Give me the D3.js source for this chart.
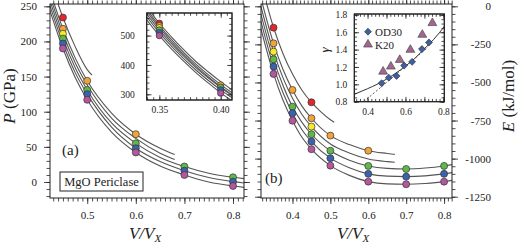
<!DOCTYPE html>
<html>
<head>
<meta charset="utf-8">
<script src="https://cdn.jsdelivr.net/npm/d3@7"></script>
<style>
body { margin: 0; background: #fff; }
svg, svg text { font-family: "Liberation Serif", "Tinos", "Times New Roman", "DejaVu Serif", serif; }
svg { display: block; }
</style>
</head>
<body>
<div id="main"></div>
<script>
var ctx = {
    w: 520,
    h: 244,
    font: "'Liberation Serif', Tinos, 'Times New Roman', 'DejaVu Serif', serif",
    ink: "#222",
    curveInk: "#555",
    minorLen: 3.5,
    majorLen: 6,
};

// six temperature series, hottest first
var tempColors = ["#e3262b", "#f0a23c", "#f6ea2a", "#5fb84a", "#3d62ad", "#b5579f"];

// ---- panel (a): P (GPa) vs V/Vx ----
var aPointV = [0.45, 0.5, 0.6, 0.7, 0.8];
var aRed     = [234, null, null, null, null];
var aOrange  = [218, 144, 68, null, null];
var aYellow  = [211, null, null, null, null];
var aGreen   = [204, 131, 55, 22, 6.7];
var aBlue    = [197, 125, 48, 16, 0.5];
var aMagenta = [190, 117, 42, 10, -5.7];

var aShortV = [0.42, 0.45, 0.475, 0.5, 0.51];
var aMidV   = [0.42, 0.45, 0.475, 0.5, 0.55, 0.6, 0.65, 0.68];
var aLongV  = [0.42, 0.45, 0.475, 0.5, 0.55, 0.6, 0.65, 0.7, 0.75, 0.8, 0.825];
var aRedCurve     = [295, 234, 193, 160, 152];
var aOrangeCurve  = [279, 218, 177, 144, 98, 68, 48, 39];
var aYellowCurve  = [272, 211, 170, 138, 91, 62, 41, 32];
var aGreenCurve   = [265, 204, 163, 131, 84, 55, 35, 22, 12.5, 6.7, 4.5];
var aBlueCurve    = [258, 197, 156, 125, 78, 48, 29, 16, 6.3, 0.5, -1.6];
var aMagentaCurve = [251, 190, 149, 117, 71, 42, 22.7, 10, 0, -5.7, -7.8];

// inset of (a)
var iaPointV = [0.35, 0.40];
var iaRed     = [542, null];
var iaOrange  = [534, 332];
var iaYellow  = [527, null];
var iaGreen   = [519, 324];
var iaBlue    = [510, 315];
var iaMagenta = [500, 304];

var iaCurveV = [0.335, 0.35, 0.36, 0.37, 0.38, 0.39, 0.40, 0.41, 0.415];
var iaRedCurve     = [625, 542, 495, 451, 411, 376, 343, 313, 299];
var iaOrangeCurve  = [616, 534, 486, 442, 402, 366, 333, 303, 289];
var iaYellowCurve  = [609, 527, 479, 435, 395, 359, 326, 296, 282];
var iaGreenCurve   = [600, 519, 472, 429, 390, 355, 323, 294, 280];
var iaBlueCurve    = [590, 510, 463, 421, 382, 347, 315, 286, 273];
var iaMagentaCurve = [580, 500, 454, 412, 373, 338, 305, 276, 263];

// ---- panel (b): E (kJ/mol) vs V/Vx ----
var bPointV = [0.35, 0.4, 0.45, 0.5, 0.6, 0.7, 0.8];
var bRed     = [-140, null, -630, null, null, null, null];
var bOrange  = [-243, -549, -735, -849, -948, null, null];
var bYellow  = [-298, null, -790, null, null, null, null];
var bGreen   = [-348, -659, -840, -948, -1048, -1068, -1048];
var bBlue    = [-396, -702, -888, -997, -1100, -1118, -1100];
var bMagenta = [-444, -751, -938, -1046, -1151, -1168, -1151];

var bShortV = [0.315, 0.35, 0.375, 0.4, 0.425, 0.45, 0.475, 0.5, 0.51];
var bMidV   = [0.315, 0.35, 0.375, 0.4, 0.425, 0.45, 0.5, 0.55, 0.6, 0.65, 0.67];
var bLongV  = [0.315, 0.35, 0.375, 0.4, 0.425, 0.45, 0.5, 0.55, 0.6, 0.65, 0.7, 0.75, 0.8, 0.825];
var bRedCurve     = [174, -139, -311, -445, -551, -631, -693, -745, -762];
var bOrangeCurve  = [70, -243, -415, -549, -655, -735, -849, -908, -948, -966, -972];
var bYellowCurve  = [15, -298, -470, -604, -710, -790, -904, -963, -1003, -1020, -1024];
var bGreenCurve   = [-35, -348, -520, -659, -762, -840, -948, -1010, -1048, -1064, -1068, -1062, -1048, -1038];
var bBlueCurve    = [-83, -396, -568, -702, -810, -888, -997, -1060, -1100, -1115, -1118, -1113, -1100, -1090];
var bMagentaCurve = [-131, -444, -617, -751, -860, -938, -1046, -1110, -1151, -1166, -1168, -1163, -1151, -1141];

// inset of (b): gamma
var gOD30V = [0.474, 0.512, 0.553, 0.593, 0.635, 0.687, 0.724];
var gOD30  = [1.013, 1.077, 1.097, 1.216, 1.259, 1.406, 1.482];
var gK20V  = [0.482, 0.523, 0.570, 0.626, 0.689, 0.742];
var gK20   = [1.147, 1.205, 1.282, 1.398, 1.571, 1.706];
var gFitV  = [0.33, 0.4, 0.45, 0.5, 0.55, 0.6, 0.65, 0.7, 0.75, 0.81];
var gFit   = [0.885, 0.95, 1.0, 1.06, 1.13, 1.21, 1.30, 1.41, 1.52, 1.68];
var gLinV  = [0.38, 0.72];
var gLin   = [0.80, 1.43];

var stepTicks = function(domain, step){
    var lo = Math.ceil(d3.min(domain) / step - 1e-6),
        hi = Math.floor(d3.max(domain) / step + 1e-6);
    return d3.range(lo, hi + 1).map(i => +(i * step).toFixed(6));
};

// one side of a frame: minor + major ticks, optional labels
var addSide = function(g, maker, scale, tr, minor, major, sign, fmt, pad, fs){
    var k = (fs && fs < 11) ? 0.8 : 1;
    var mi = maker(scale).tickValues(stepTicks(scale.domain(), minor))
        .tickSize(sign * ctx.minorLen * k).tickSizeOuter(0).tickFormat("");
    var ma = maker(scale).tickValues(stepTicks(scale.domain(), major))
        .tickSize(sign * ctx.majorLen * k).tickSizeOuter(0)
        .tickPadding(pad || 3).tickFormat(fmt || (() => ""));
    [mi, ma].forEach(function(a){
        var ga = g.append("g").attr("transform", tr).call(a);
        ga.attr("font-family", ctx.font).attr("font-size", fs || 11);
        ga.select(".domain").remove();
        ga.selectAll("line").attr("stroke", ctx.ink).attr("stroke-width", 0.8);
        ga.selectAll("text").attr("fill", ctx.ink);
    });
    return g;
};

var frame = function(g, x, y, fill){
    g.append("rect")
        .attr("x", x.range()[0]).attr("y", y.range()[1])
        .attr("width", x.range()[1] - x.range()[0])
        .attr("height", y.range()[0] - y.range()[1])
        .attr("fill", fill || "none")
        .attr("stroke", ctx.ink).attr("stroke-width", 1);
};

var clipId = 0;
var drawCurves = function(g, x, y, curves){
    var id = "clip" + (clipId++);
    g.append("clipPath").attr("id", id).append("rect")
        .attr("x", x.range()[0]).attr("y", y.range()[1])
        .attr("width", x.range()[1] - x.range()[0])
        .attr("height", y.range()[0] - y.range()[1]);
    var line = d3.line().x(d => x(d[0])).y(d => y(d[1])).curve(d3.curveMonotoneX);
    var cg = g.append("g").attr("clip-path", "url(#" + id + ")");
    curves.forEach(function(c){
        cg.append("path")
            .attr("d", line(d3.zip(c[0], c[1])))
            .attr("fill", "none")
            .attr("stroke", ctx.curveInk)
            .attr("stroke-width", 1.1);
    });
};

var drawPoints = function(g, x, y, vs, series, r){
    series.forEach(function(vals, i){
        var pts = d3.zip(vs, vals).filter(d => d[1] != null);
        g.append("g").selectAll("circle").data(pts).enter().append("circle")
            .attr("cx", d => x(d[0]))
            .attr("cy", d => y(d[1]))
            .attr("r", r)
            .attr("fill", tempColors[i])
            .attr("stroke", "#333")
            .attr("stroke-width", 0.7);
    });
};

var xTitle = function(svgEl, cx){
    var t = svgEl.append("text").attr("x", cx).attr("y", 239)
        .attr("text-anchor", "middle").attr("font-size", 17)
        .attr("font-style", "italic").attr("fill", ctx.ink);
    t.append("tspan").text("V/V");
    t.append("tspan").attr("font-size", 11).attr("dy", 3).text("X");
};

var createPanelA = function(svgEl){
    var g = svgEl.append("g");
    var x = d3.scaleLinear().domain([0.4234, 0.8226]).range([50, 244]);
    var y = d3.scaleLinear().domain([-22.8, 253.3]).range([198, 4]);
    drawCurves(g, x, y, [[aShortV, aRedCurve], [aMidV, aOrangeCurve], [aMidV, aYellowCurve],
                         [aLongV, aGreenCurve], [aLongV, aBlueCurve], [aLongV, aMagentaCurve]]);
    drawPoints(g, x, y, aPointV, [aRed, aOrange, aYellow, aGreen, aBlue, aMagenta], 3.5);
    frame(g, x, y);
    addSide(g, d3.axisBottom, x, "translate(0,198)", 0.01, 0.1, 1, d => d.toFixed(1), 7, 11);
    addSide(g, d3.axisTop, x, "translate(0,4)", 0.01, 0.1, 1);
    addSide(g, d3.axisLeft, y, "translate(50,0)", 10, 50, 1, d => d3.format("d")(d), 7, 11);
    addSide(g, d3.axisRight, y, "translate(244,0)", 10, 50, 1);

    g.append("text").attr("x", 62).attr("y", 155).attr("font-size", 15)
        .attr("fill", ctx.ink).text("(a)");
    g.append("rect").attr("x", 60).attr("y", 172).attr("width", 83).attr("height", 19)
        .attr("fill", "#fff").attr("stroke", ctx.ink).attr("stroke-width", 1);
    g.append("text").attr("x", 101.5).attr("y", 186).attr("text-anchor", "middle")
        .attr("font-size", 12.5).attr("fill", ctx.ink).text("MgO Periclase");

    // inset
    var ix = d3.scaleLinear().domain([0.3397, 0.4092]).range([146.7, 232]);
    var iy = d3.scaleLinear().domain([280.6, 577]).range([100, 13]);
    frame(g, ix, iy, "#fff");
    drawCurves(g, ix, iy, [iaRedCurve, iaOrangeCurve, iaYellowCurve, iaGreenCurve, iaBlueCurve, iaMagentaCurve]
        .map(c => [iaCurveV, c]));
    drawPoints(g, ix, iy, iaPointV, [iaRed, iaOrange, iaYellow, iaGreen, iaBlue, iaMagenta], 3.2);
    frame(g, ix, iy);
    addSide(g, d3.axisBottom, ix, "translate(0,100)", 0.005, 0.05, -1, d => d.toFixed(2), 6, 9.5);
    addSide(g, d3.axisTop, ix, "translate(0,13)", 0.005, 0.05, -1, null, 3, 9.5);
    addSide(g, d3.axisLeft, iy, "translate(146.7,0)", 20, 100, -1, d => d3.format("d")(d), 12, 9.5);
    addSide(g, d3.axisRight, iy, "translate(232,0)", 20, 100, -1, null, 3, 9.5);

    var t = svgEl.append("text").attr("transform", "translate(15,96) rotate(-90)")
        .attr("text-anchor", "middle").attr("font-size", 17).attr("fill", ctx.ink);
    t.append("tspan").attr("font-style", "italic").text("P");
    t.append("tspan").text(" (GPa)");
    xTitle(svgEl, 145);
};

var createPanelB = function(svgEl){
    var g = svgEl.append("g");
    var x = d3.scaleLinear().domain([0.3169, 0.8209]).range([261, 452]);
    var y = d3.scaleLinear().domain([-1258.5, 15.1]).range([198, 4]);
    drawCurves(g, x, y, [[bShortV, bRedCurve], [bMidV, bOrangeCurve], [bMidV, bYellowCurve],
                         [bLongV, bGreenCurve], [bLongV, bBlueCurve], [bLongV, bMagentaCurve]]);
    drawPoints(g, x, y, bPointV, [bRed, bOrange, bYellow, bGreen, bBlue, bMagenta], 3.5);
    frame(g, x, y);
    addSide(g, d3.axisBottom, x, "translate(0,198)", 0.01, 0.1, 1, d => d.toFixed(1), 7, 11);
    addSide(g, d3.axisTop, x, "translate(0,4)", 0.01, 0.1, 1);
    addSide(g, d3.axisLeft, y, "translate(261,0)", 50, 250, 1);
    addSide(g, d3.axisRight, y, "translate(452,0)", 50, 250, 1, d => d3.format("d")(d).replace("−", "-"), 7, 11);
    g.selectAll("text").filter(function(){ return this.parentNode.parentNode.getAttribute("transform") === "translate(452,0)"; })
        .attr("text-anchor", "end").attr("x", 39);

    g.append("text").attr("x", 265).attr("y", 183).attr("font-size", 15)
        .attr("fill", ctx.ink).text("(b)");

    // gamma inset
    var ix = d3.scaleLinear().domain([0.33, 0.805]).range([354.3, 444.3]);
    var iy = d3.scaleLinear().domain([0.8, 1.81]).range([101.7, 14]);
    frame(g, ix, iy, "#fff");
    var line = d3.line().x(d => ix(d[0])).y(d => iy(d[1]));
    var id = "clip" + (clipId++);
    g.append("clipPath").attr("id", id).append("rect")
        .attr("x", 354.3).attr("y", 14).attr("width", 90).attr("height", 87.7);
    var lg = g.append("g").attr("clip-path", "url(#" + id + ")");
    lg.append("path").attr("d", line.curve(d3.curveMonotoneX)(d3.zip(gFitV, gFit)))
        .attr("fill", "none").attr("stroke", "#333").attr("stroke-width", 1);
    lg.append("path").attr("d", line.curve(d3.curveLinear)(d3.zip(gLinV, gLin)))
        .attr("fill", "none").attr("stroke", "#444").attr("stroke-width", 0.9)
        .attr("stroke-dasharray", "2,2");
    var tri = d3.symbol(d3.symbolTriangle, 34);
    var dia = d3.symbol(d3.symbolSquare, 24);
    g.append("g").selectAll("path").data(d3.zip(gK20V, gK20)).enter().append("path")
        .attr("d", tri).attr("transform", d => "translate(" + ix(d[0]) + "," + iy(d[1]) + ")")
        .attr("fill", "#a3678f").attr("stroke", "#3a3a3a").attr("stroke-width", 0.6);
    g.append("g").selectAll("path").data(d3.zip(gOD30V, gOD30)).enter().append("path")
        .attr("d", dia).attr("transform", d => "translate(" + ix(d[0]) + "," + iy(d[1]) + ") rotate(45)")
        .attr("fill", "#3e5ea6").attr("stroke", "#2a2a2a").attr("stroke-width", 0.6);
    frame(g, ix, iy);
    addSide(g, d3.axisBottom, ix, "translate(0,101.7)", 0.02, 0.1, -1,
        d => (Math.round(d * 10) % 2 === 0 ? d.toFixed(1) : ""), 7, 9.5);
    addSide(g, d3.axisTop, ix, "translate(0,14)", 0.02, 0.1, -1, null, 3, 9.5);
    addSide(g, d3.axisLeft, iy, "translate(354.3,0)", 0.05, 0.2, -1, d => d.toFixed(1), 7, 9.5);
    addSide(g, d3.axisRight, iy, "translate(444.3,0)", 0.05, 0.2, -1, null, 3, 9.5);

    // legend
    g.append("path").attr("d", dia).attr("transform", "translate(368,31.7) rotate(45)")
        .attr("fill", "#3e5ea6").attr("stroke", "#2a2a2a").attr("stroke-width", 0.6);
    g.append("text").attr("x", 375).attr("y", 36).attr("font-size", 11)
        .attr("fill", ctx.ink).text("OD30");
    g.append("path").attr("d", tri).attr("transform", "translate(368,44.5)")
        .attr("fill", "#a3678f").attr("stroke", "#3a3a3a").attr("stroke-width", 0.6);
    g.append("text").attr("x", 375).attr("y", 49).attr("font-size", 11)
        .attr("fill", ctx.ink).text("K20");
    g.append("text").attr("transform", "translate(329,50) rotate(-90)")
        .attr("text-anchor", "middle").attr("font-size", 13).attr("font-style", "italic")
        .attr("fill", ctx.ink).text("γ");

    var t = svgEl.append("text").attr("transform", "translate(514,96) rotate(-90)")
        .attr("text-anchor", "middle").attr("font-size", 17).attr("fill", ctx.ink);
    t.append("tspan").attr("font-style", "italic").text("E");
    t.append("tspan").text(" (kJ/mol)");
    xTitle(svgEl, 353);
};

var createViz = function(){
    var svgEl = d3.select("#main").append("svg")
        .attr("width", ctx.w).attr("height", ctx.h)
        .attr("font-family", ctx.font);
    createPanelA(svgEl);
    createPanelB(svgEl);
};

createViz();
</script>
</body>
</html>
